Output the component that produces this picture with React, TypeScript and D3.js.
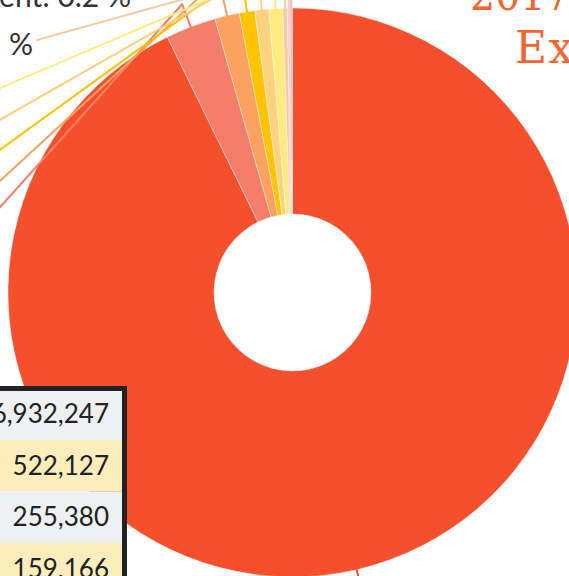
import React from 'react';
import * as d3 from 'd3';

// slice data, largest first (pie keeps this order)
const categories = [
  'Rest of World',
  'Region B',
  'Region C',
  'Region D',
  'Region E',
  'Region F',
  'Region G',
  'Independent',
  'Region I',
];
const exportValues = [16932247, 522127, 255380, 159166, 145000, 142000, 47000, 28000, 25000];
const sliceColors = [
  '#F5502B', '#F47E6A', '#FCA15F', '#FFC300', '#FDD27E',
  '#FFEB80', '#F5CBA7', '#F7C9C4', '#F9B4B4',
];
const rowColors = ['#EFF0F2', '#FDEDBD'];
const titleLines = ['2017 Total', 'Exports'];

const W = 569;
const H = 576;

export default function App() {
  const cx = 292.5;
  const cy = 292.5;
  const R = 284.5;
  const r0 = 78.5;

  const total = d3.sum(exportValues);
  const pie = d3.pie<number>().sort(null).value(d => d);
  const arcs = pie(exportValues);
  const arc = d3.arc<d3.PieArcDatum<number>>().innerRadius(r0).outerRadius(R);
  const fmt = d3.format(',');

  // where each leader line ends (label anchor), in page coordinates
  const labelEnds: [number, number][] = [
    [420, 606], [-190, 419], [-160, 328], [-130, 244], [-90, 171],
    [-40, 105], [37, 40], [135, -8], [250, -60],
  ];

  const polar = (a: number, rr: number): [number, number] => [
    cx + rr * Math.sin(a),
    cy - rr * Math.cos(a),
  ];

  const line = d3.line().curve(d3.curveLinear);

  // table
  const tableRight = 124.5;
  const tableTop = 388.5;
  const rowH = 51.5;

  return (
    <svg width={W} height={H} style={{ position: 'absolute', left: 0, top: 0, background: '#fff' }}>
      <g transform={`translate(${cx},${cy})`}>
        {arcs.map((d, i) => (
          <path key={i} d={arc(d) || ''} fill={sliceColors[i]} stroke="#fff" strokeOpacity={0.55} strokeWidth={0.7} />
        ))}
      </g>

      {arcs.map((d, i) => {
        const mid = (d.startAngle + d.endAngle) / 2;
        const elbowR = R * (i === 1 ? 1.085 : 1.13);
        const [ex, ey] = labelEnds[i];
        const pts: [number, number][] = [polar(mid, R), polar(mid, elbowR), [ex, ey]];
        const leftSide = ex < cx;
        const pct = ((d.value / total) * 100).toFixed(1);
        return (
          <g key={i}>
            <path d={line(pts) || ''} fill="none" stroke={sliceColors[i]} strokeWidth={2}
              strokeLinejoin="round" strokeLinecap="round" />
            <text x={leftSide ? ex - 4 : ex + 4} y={ey + 15} textAnchor={leftSide ? 'end' : 'start'}
              fontFamily="Lato, sans-serif" fontSize={30} fill="#333">
              {`${categories[i]}: ${pct} %`}
            </text>
          </g>
        );
      })}

      <text fill="#F2652F" fontSize={44}>
        <tspan x={470} y={10} fontFamily="'DejaVu Serif Condensed', 'DejaVu Serif', serif">{titleLines[0]}</tspan>
        <tspan x={515} y={63} fontFamily="'DejaVu Serif', serif" letterSpacing={1.5}>{titleLines[1]}</tspan>
      </text>

      <g>
        {exportValues.map((v, i) => (
          <g key={i}>
            <rect x={-320} y={tableTop + i * rowH} width={320 + tableRight} height={rowH} fill={rowColors[i % 2]} />
            <text x={-300} y={tableTop + i * rowH + 34.5} fontFamily="Lato, sans-serif" fontSize={26} fill="#222">
              {categories[i]}
            </text>
            <text x={109} y={tableTop + i * rowH + 34.5} textAnchor="end"
              fontFamily="Lato, sans-serif" fontSize={26} fill="#222">
              {fmt(v)}
            </text>
          </g>
        ))}
        <rect x={-320} y={tableTop} width={320 + tableRight} height={rowH * exportValues.length}
          fill="none" stroke="#222" strokeWidth={5} />
      </g>
    </svg>
  );
}
